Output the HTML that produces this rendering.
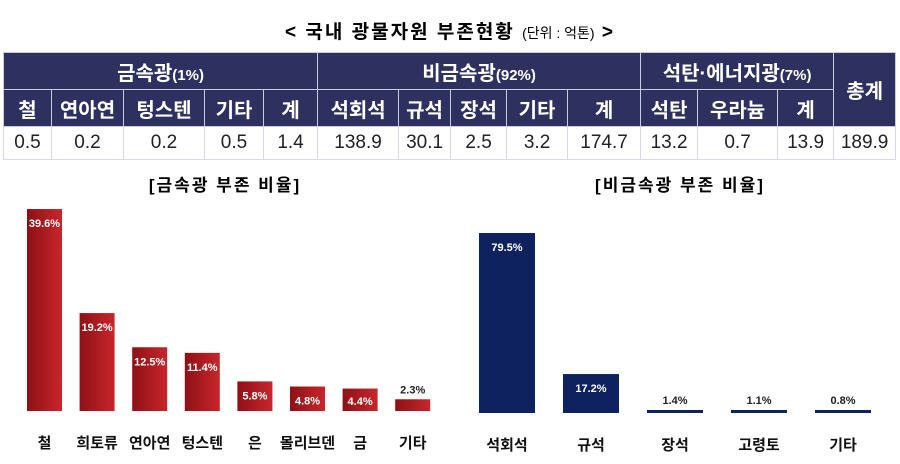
<!DOCTYPE html>
<html><head><meta charset="utf-8">
<style>
body{margin:0;width:900px;height:464px;background:#fff;font-family:"Liberation Sans","Noto Sans CJK KR",sans-serif;overflow:hidden;position:relative}
.t{position:absolute;white-space:nowrap}
table{position:absolute;left:3px;top:52px;border-collapse:collapse;table-layout:fixed;width:892px}
td{text-align:center;padding:0;overflow:hidden;white-space:nowrap}
.h td{background:#2e3060;color:#fff;font-weight:bold;font-size:20px;border:1px solid #c8cce0}
.d td{font-size:19px;color:#222;border-left:1px solid #d6dae8;border-right:1px solid #d6dae8;border-bottom:1px solid #d6dae8;height:32px}
.h small{font-size:15px}
</style></head><body>
<div class="t" style="left:0;width:900px;text-align:center;top:17px;font-size:19px;font-weight:bold;letter-spacing:2px">&lt; 국내 광물자원 부존현황 <span style="font-weight:normal;font-size:14px;letter-spacing:0">(단위 : 억톤)</span> &gt;</div>
<table>
<colgroup><col style="width:48px"><col style="width:72px"><col style="width:81px"><col style="width:59px"><col style="width:54px"><col style="width:81px"><col style="width:52px"><col style="width:56px"><col style="width:61px"><col style="width:73px"><col style="width:57px"><col style="width:80px"><col style="width:56px"><col style="width:62px"></colgroup>
<tr class="h" style="height:37px"><td colspan="5">금속광<small>(1%)</small></td><td colspan="5">비금속광<small>(92%)</small></td><td colspan="3">석탄·에너지광<small>(7%)</small></td><td rowspan="2">총계</td></tr>
<tr class="h" style="height:37px"><td>철</td><td>연아연</td><td>텅스텐</td><td>기타</td><td>계</td><td>석회석</td><td>규석</td><td>장석</td><td>기타</td><td>계</td><td>석탄</td><td>우라늄</td><td>계</td></tr>
<tr class="d"><td>0.5</td><td>0.2</td><td>0.2</td><td>0.5</td><td>1.4</td><td>138.9</td><td>30.1</td><td>2.5</td><td>3.2</td><td>174.7</td><td>13.2</td><td>0.7</td><td>13.9</td><td>189.9</td></tr>
</table>
<div class="t" style="left:115px;width:220px;text-align:center;top:171px;font-size:17px;font-weight:bold;letter-spacing:2px">[금속광 부존 비율]</div>
<div class="t" style="left:560px;width:240px;text-align:center;top:171px;font-size:17px;font-weight:bold;letter-spacing:2px">[비금속광 부존 비율]</div>
<svg id="c" width="900" height="464" style="position:absolute;left:0;top:0">
<defs><linearGradient id="rg" x1="0" x2="1"><stop offset="0" stop-color="#8e1116"/><stop offset="1" stop-color="#c8262b"/></linearGradient></defs>
</svg>
<script>
const metalCats=["철","희토류","연아연","텅스텐","은","몰리브덴","금","기타"];
const metalVals=[39.6,19.2,12.5,11.4,5.8,4.8,4.4,2.3];
const nonCats=["석회석","규석","장석","고령토","기타"];
const nonVals=[79.5,17.2,1.4,1.1,0.8];
const svg=document.getElementById('c');
const NS="http://www.w3.org/2000/svg";
function mk(tag,attrs){const e=document.createElementNS(NS,tag);for(const k in attrs)e.setAttribute(k,attrs[k]);svg.appendChild(e);return e;}
function draw(cats,vals,x0,step,w,base,scale,fill,prefix){
  cats.forEach((c,i)=>{
    const v=vals[i];const x=x0+i*step;let h=v*scale;const thin=h<6;if(thin)h=3;
    const y=base-h;
    const r=mk('rect',{x:x,y:y,width:w,height:h,fill:fill});
    
    
    const inside=!thin&&h>18;
    const t=mk('text',{x:x+w/2,y:inside?Math.min(y+18,base-6):y-6,'text-anchor':'middle','font-size':11,'font-weight':'bold',fill:inside?'#fff':'#222','font-family':'Liberation Sans, sans-serif'});
    t.textContent=v.toFixed(1)+'%';
    
    
    const l=mk('text',{x:x+w/2,y:base+37,'text-anchor':'middle','font-size':15,'font-weight':'bold',fill:'#111','font-family':'Liberation Sans, Noto Sans CJK KR, sans-serif'});
    l.textContent=c;
    
    
  });
}
draw(metalCats,metalVals,27,52.6,35,411,5.1,'url(#rg)','metal');
draw(nonCats,nonVals,479,84,56,413,2.264,'#0f2260','nonmetal');
</script>
</body></html>
